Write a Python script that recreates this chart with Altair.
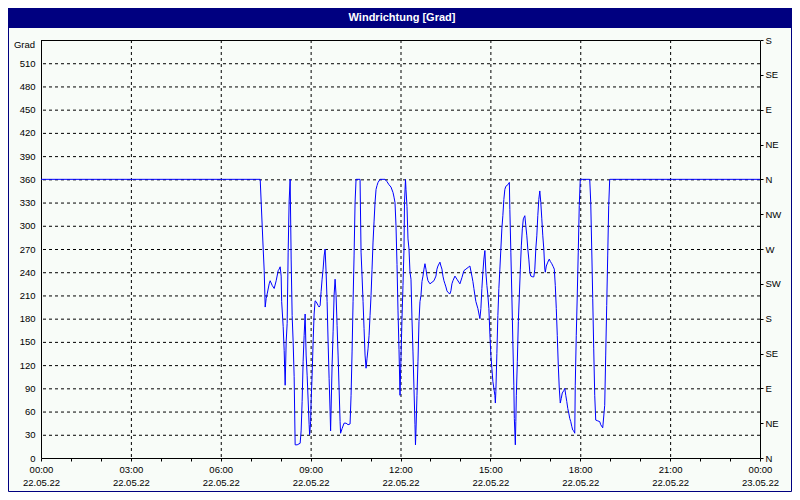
import json
import altair as alt
import pandas as pd

# ---- data (minutes since 22.05.22 00:00, wind direction in degrees) ----
MINUTES = [0, 439, 441, 445, 447, 449, 451, 453, 457, 459, 463, 467, 471, 475, 477, 479, 481, 482, 485, 487,
           489, 491, 493, 495, 497, 499, 501, 503, 505, 507, 509, 513, 519, 521, 523, 525, 527, 529, 531, 533,
           535, 537, 538, 540, 541, 543, 545, 547, 549, 551, 555, 557, 559, 561, 563, 565, 567, 569, 571, 573,
           575, 577, 579, 580, 583, 585, 587, 589, 591, 593, 595, 597, 599, 600, 603, 607, 611, 615, 619, 621,
           623, 625, 627, 629, 631, 639, 641, 643, 645, 647, 649, 651, 653, 655, 657, 659, 661, 663, 665, 667,
           669, 671, 673, 675, 679, 689, 693, 697, 701, 705, 707, 709, 711, 713, 715, 717, 719, 721, 723, 725,
           727, 728, 730, 731, 733, 735, 737, 739, 741, 743, 745, 747, 749, 750, 751, 753, 755, 757, 759, 761,
           763, 765, 767, 769, 771, 773, 775, 779, 783, 787, 791, 793, 795, 799, 801, 803, 805, 807, 809, 811,
           813, 815, 819, 821, 823, 825, 829, 833, 837, 839, 843, 847, 851, 857, 859, 863, 865, 867, 869, 871,
           875, 879, 881, 883, 885, 887, 889, 891, 893, 895, 897, 899, 901, 903, 905, 907, 909, 910, 911, 913,
           915, 917, 919, 921, 923, 925, 927, 929, 931, 935, 938, 939, 941, 943, 945, 947, 948, 950, 951, 952,
           954, 956, 958, 960, 962, 964, 966, 969, 971, 973, 975, 977, 979, 981, 985, 987, 989, 991, 993, 995,
           997, 999, 1001, 1003, 1005, 1007, 1009, 1010, 1012, 1015, 1018, 1020, 1023, 1026, 1028, 1030, 1032,
           1034, 1036, 1038, 1040, 1042, 1044, 1047, 1049, 1051, 1053, 1055, 1057, 1059, 1061, 1063, 1065, 1067,
           1069, 1070, 1072, 1074, 1076, 1078, 1080, 1099, 1101, 1103, 1105, 1107, 1109, 1111, 1115, 1119, 1121,
           1125, 1129, 1131, 1133, 1135, 1137, 1139, 1440]
VALUES = [360, 360, 330, 270, 242, 195, 206, 212, 225, 229, 223, 219, 229, 242, 244, 247, 235, 202, 170, 139,
          94, 150, 174, 266, 332, 360, 257, 184, 150, 105, 17, 17, 19, 35, 73, 125, 158, 186, 133, 107,
          75, 43, 30, 47, 73, 107, 150, 186, 203, 202, 197, 195, 197, 215, 231, 244, 261, 270, 240, 202,
          150, 103, 60, 35, 120, 163, 210, 231, 210, 171, 133, 90, 47, 32, 38, 45, 45, 43, 44, 81,
          137, 202, 261, 330, 360, 360, 266, 235, 202, 167, 133, 116, 129, 141, 158, 184, 210, 244, 279, 305,
          330, 347, 352, 356, 360, 360, 357, 353, 350, 343, 337, 330, 300, 250, 190, 140, 81, 130, 180, 223,
          270, 330, 360, 347, 325, 283, 270, 240, 231, 180, 137, 90, 43, 17, 35, 81, 125, 176, 202, 210,
          228, 235, 244, 251, 244, 235, 229, 225, 227, 229, 235, 244, 248, 253, 248, 244, 235, 229, 225, 221,
          216, 214, 212, 216, 225, 229, 235, 231, 227, 225, 233, 242, 244, 247, 248, 235, 228, 219, 210, 202,
          193, 180, 193, 219, 240, 257, 268, 240, 223, 210, 193, 160, 133, 116, 99, 90, 81, 71, 86, 135,
          184, 219, 244, 270, 296, 313, 334, 347, 351, 353, 356, 321, 266, 210, 150, 94, 51, 17, 47, 81,
          125, 176, 210, 244, 274, 296, 309, 313, 300, 287, 270, 257, 240, 235, 234, 234, 244, 270, 287, 313,
          334, 345, 330, 309, 287, 270, 244, 240, 248, 253, 257, 254, 251, 247, 244, 223, 193,
          158, 120, 90, 71, 77, 84, 87, 90, 81, 73, 64, 58, 51, 47, 41, 36, 35,
          32, 94, 158, 210, 266, 326, 360, 360, 330, 270, 206, 141, 81, 49, 48, 47, 43,
          39, 68, 133, 197, 261, 326, 360, 360]

DEG_TICKS = list(range(0, 541, 30))
DEG_GRID = list(range(30, 511, 30))
HOUR_TICKS = list(range(0, 1441, 60))
HOUR_GRID = list(range(180, 1261, 180))
TIME_LABELS = ["00:00", "03:00", "06:00", "09:00", "12:00", "15:00", "18:00", "21:00", "00:00"]
DATE_LABELS = ["22.05.22"] * 8 + ["23.05.22"]
COMPASS_DEG = list(range(0, 541, 45))
COMPASS = ["N", "NE", "E", "SE", "S", "SW", "W", "NW", "N", "NE", "E", "SE", "S"]
TITLE = "Windrichtung [Grad]"
UNIT = "Grad"

# ---- style ----
W, H = 719, 418
PAD = {"left": 33, "top": 32, "right": 32, "bottom": 34}
FONT = "Liberation Sans"
FS = 9.5
NAVY = "#000080"
BG = "#f8fcf8"
LINE = "#0000ff"

df = pd.DataFrame({"minute": MINUTES, "value": VALUES})
one = pd.DataFrame({"k": [0]})

xscale = alt.Scale(domain=[0, 1440], nice=False, zero=False)
yscale = alt.Scale(domain=[0, 540], nice=False, zero=False)

pairs = ",".join(json.dumps([t, d]) for t, d in zip(TIME_LABELS, DATE_LABELS))
x_label_expr = f"datum.value % 180 == 0 ? [{pairs}][datum.value / 180] : ''"
y_label_expr = "datum.value == 540 ? '' : '' + datum.value"
c_label_expr = f"{json.dumps(COMPASS)}[round(datum.value / 45)]"

border = alt.Chart(one).mark_rect(fillOpacity=0, stroke=NAVY, strokeWidth=1).encode(
    x=alt.value(-PAD["left"] + 0.5), x2=alt.value(W + PAD["right"] - 0.5),
    y=alt.value(-PAD["top"] + 0.5), y2=alt.value(H + PAD["bottom"] - 0.5))
bar = alt.Chart(one).mark_rect(color=NAVY).encode(
    x=alt.value(-PAD["left"]), x2=alt.value(W + PAD["right"]),
    y=alt.value(-PAD["top"]), y2=alt.value(-PAD["top"] + 20))
title = alt.Chart(one).mark_text(color="white", font=FONT, fontSize=11, fontWeight="bold",
                                 align="center", baseline="middle").encode(
    x=alt.value(361), y=alt.value(-PAD["top"] + 10), text=alt.value(TITLE))
unit = alt.Chart(one).mark_text(color="black", font=FONT, fontSize=FS,
                                align="right", baseline="middle").encode(
    x=alt.value(-6), y=alt.value(5), text=alt.value(UNIT))

vgrid = alt.Chart(pd.DataFrame({"m": HOUR_GRID})).mark_rule(
    color="black", strokeDash=[3, 3], strokeWidth=1, xOffset=0.5).encode(
    x=alt.X("m:Q", scale=xscale, axis=None))

hgrid = alt.Chart(pd.DataFrame({"deg": DEG_GRID})).mark_rule(
    color="black", strokeDash=[3, 3], strokeWidth=1, yOffset=0.5).encode(
    y=alt.Y("deg:Q", scale=yscale, axis=alt.Axis(
        orient="right", values=COMPASS_DEG, labelExpr=c_label_expr, title=None, grid=False,
        domain=True, domainColor="black", ticks=True, tickColor="black", tickSize=3,
        labelPadding=2, labelFont=FONT, labelFontSize=FS, labelColor="black",
        labelAlign="left", labelBaseline="middle", labelOverlap=False, labelFlush=False)))

topline = alt.Chart(one).mark_rule(color="black", strokeWidth=1).encode(
    x=alt.value(0), x2=alt.value(W), y=alt.value(0.5))

line = alt.Chart(df).mark_line(color=LINE, strokeWidth=1, interpolate="linear").encode(
    x=alt.X("minute:Q", scale=xscale, axis=alt.Axis(
        orient="bottom", values=HOUR_TICKS, labelExpr=x_label_expr, title=None, grid=False,
        domain=True, domainColor="black", ticks=True, tickColor="black", tickSize=3,
        labelPadding=3, labelFont=FONT, labelFontSize=FS, labelColor="black",
        labelBaseline="top", labelLineHeight=13.5, labelOverlap=False, labelFlush=False)),
    y=alt.Y("value:Q", scale=yscale, axis=alt.Axis(
        orient="left", values=DEG_TICKS, labelExpr=y_label_expr, title=None, grid=False,
        domain=True, domainColor="black", ticks=False, tickSize=0,
        labelPadding=6, labelFont=FONT, labelFontSize=FS, labelColor="black",
        labelAlign="right", labelBaseline="middle", labelOverlap=False, labelFlush=False)))

chart = alt.layer(border, bar, title, unit, vgrid, hgrid, topline, line).resolve_scale(
    x="independent", y="independent"
).properties(
    width=W, height=H,
    autosize=alt.AutoSizeParams(type="none"),
    padding=PAD,
    background=BG,
).configure_view(stroke=None)

chart.save("out.html", embed_options={"renderer": "svg", "actions": False})
